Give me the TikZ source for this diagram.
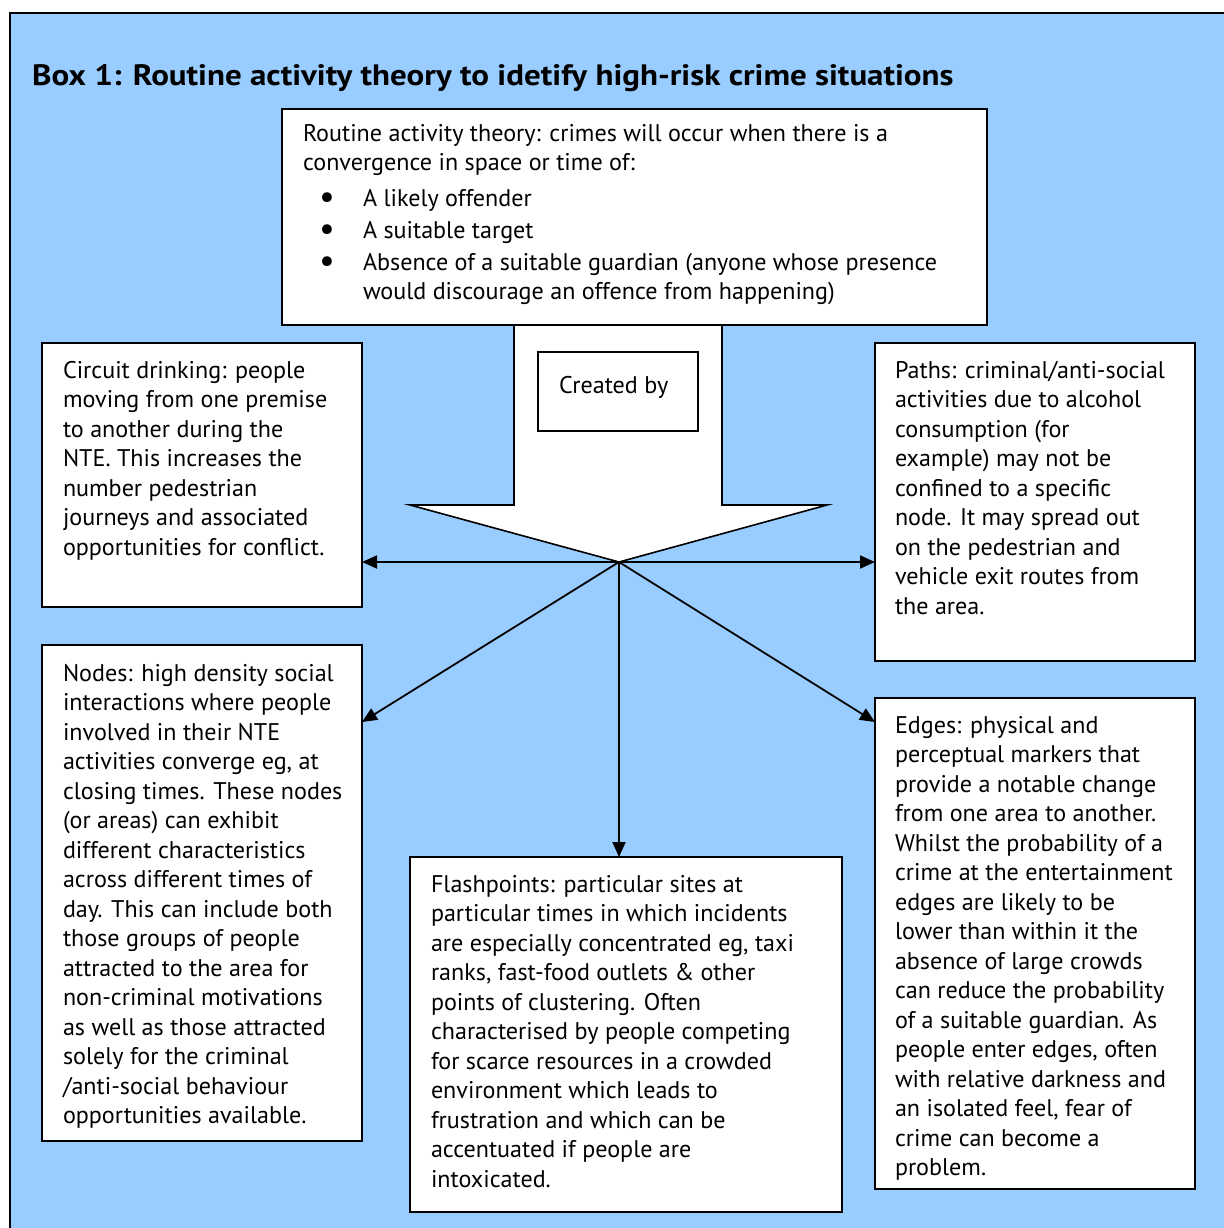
\documentclass[tikz,border=0pt]{standalone}
\usepackage{fontspec}
\setmainfont{PT Sans}
\usetikzlibrary{arrows.meta,calc}
\definecolor{bgblue}{HTML}{99CCFF}
\tikzset{
  box/.style={draw=black, fill=white, line width=1.6pt, inner sep=0pt, outer sep=0pt, anchor=north west},
  txt/.style={anchor=north west, inner sep=0pt, outer sep=0pt, align=left, font=\fontsize{24.1}{29.5}\selectfont},
  conn/.style={line width=1.8pt, -{Triangle[length=15pt,width=13pt]}},
}
\newcommand{\fl}{\rule{0pt}{24pt}}
\newcommand{\bul}{\hspace*{16pt}\makebox[44pt][l]{\raisebox{-2pt}{\scalebox{1.45}{\textbullet}}}}
\begin{document}
\begin{tikzpicture}[x=1pt,y=-1pt]
\useasboundingbox (0,0) rectangle (1223,1228);
\fill[white] (0,0) rectangle (1223,1228);
\draw[fill=bgblue, line width=1.8pt] (10,13) rectangle (1240,1245);

\node[anchor=base west, inner sep=0pt, font=\bfseries\fontsize{29.5}{34}\selectfont] (title) at (32,86)
  {\scalebox{1.118}[1]{Box 1: Routine activity theory to idetify high-risk crime situations}};

\coordinate (c) at (619,562);
% block arrow
\draw[fill=white, line width=1.6pt] (514,325) -- (514,505) -- (410,505) -- (c) -- (827,505) -- (722,505) -- (722,325);

% boxes
\node[box, minimum width=705pt, minimum height=216pt] (top) at (282,109) {};
\node[box, minimum width=160pt, minimum height=79pt] (created) at (538,352) {};
\node[box, minimum width=320pt, minimum height=264pt] (cd) at (42,343) {};
\node[box, minimum width=320pt, minimum height=318pt] (paths) at (875,343) {};
\node[box, minimum width=320pt, minimum height=496pt] (nodes) at (42,645) {};
\node[box, minimum width=432pt, minimum height=355pt] (flash) at (410,857) {};
\node[box, minimum width=320pt, minimum height=491pt] (edges) at (875,698) {};

% texts
\node[txt] (toptxt) at (303,117) {\fl Routine activity theory: crimes will occur when there is a\\
convergence in space or time of:\\[6pt]
\bul A likely offender\\[2.5pt]
\bul A suitable target\\[2.5pt]
\bul Absence of a suitable guardian (anyone whose presence\\
\hspace*{60pt}would discourage an offence from happening)};

\node[txt] (createdtxt) at (559,369) {\fl Created by};

\node[txt] (cdtxt) at (63,354) {\fl Circuit drinking: people\\
moving from one premise\\
to another during the\\
NTE. This increases the\\
number pedestrian\\
journeys and associated\\
opportunities for conflict.};

\node[txt] (pathstxt) at (895,354) {\fl Paths: criminal/anti-social\\
activities due to alcohol\\
consumption (for\\
example) may not be\\
confined to a specific\\
node. It may spread out\\
on the pedestrian and\\
vehicle exit routes from\\
the area.};

\node[txt] (nodestxt) at (63,657) {\fl Nodes: high density social\\
interactions where people\\
involved in their NTE\\
activities converge eg, at\\
closing times. These nodes\\
(or areas) can exhibit\\
different characteristics\\
across different times of\\
day. This can include both\\
those groups of people\\
attracted to the area for\\
non-criminal motivations\\
as well as those attracted\\
solely for the criminal\\
/anti-social behaviour\\
opportunities available.};

\node[txt] (flashtxt) at (431,868) {\fl Flashpoints: particular sites at\\
particular times in which incidents\\
are especially concentrated eg, taxi\\
ranks, fast-food outlets \& other\\
points of clustering. Often\\
characterised by people competing\\
for scarce resources in a crowded\\
environment which leads to\\
frustration and which can be\\
accentuated if people are\\
intoxicated.};

\node[txt] (edgestxt) at (895,709) {\fl Edges: physical and\\
perceptual markers that\\
provide a notable change\\
from one area to another.\\
Whilst the probability of a\\
crime at the entertainment\\
edges are likely to be\\
lower than within it the\\
absence of large crowds\\
can reduce the probability\\
of a suitable guardian. As\\
people enter edges, often\\
with relative darkness and\\
an isolated feel, fear of\\
crime can become a\\
problem.};

% connectors
\draw[conn] (c) -- (c -| cd.east);
\draw[conn] (c) -- (c -| paths.west);
\draw[conn] (c) -- (c |- flash.north);
\draw[conn] (c) -- ($(nodes.north east)+(0,77)$);
\draw[conn] (c) -- ($(edges.north west)+(0,24)$);
\end{tikzpicture}
\end{document}
